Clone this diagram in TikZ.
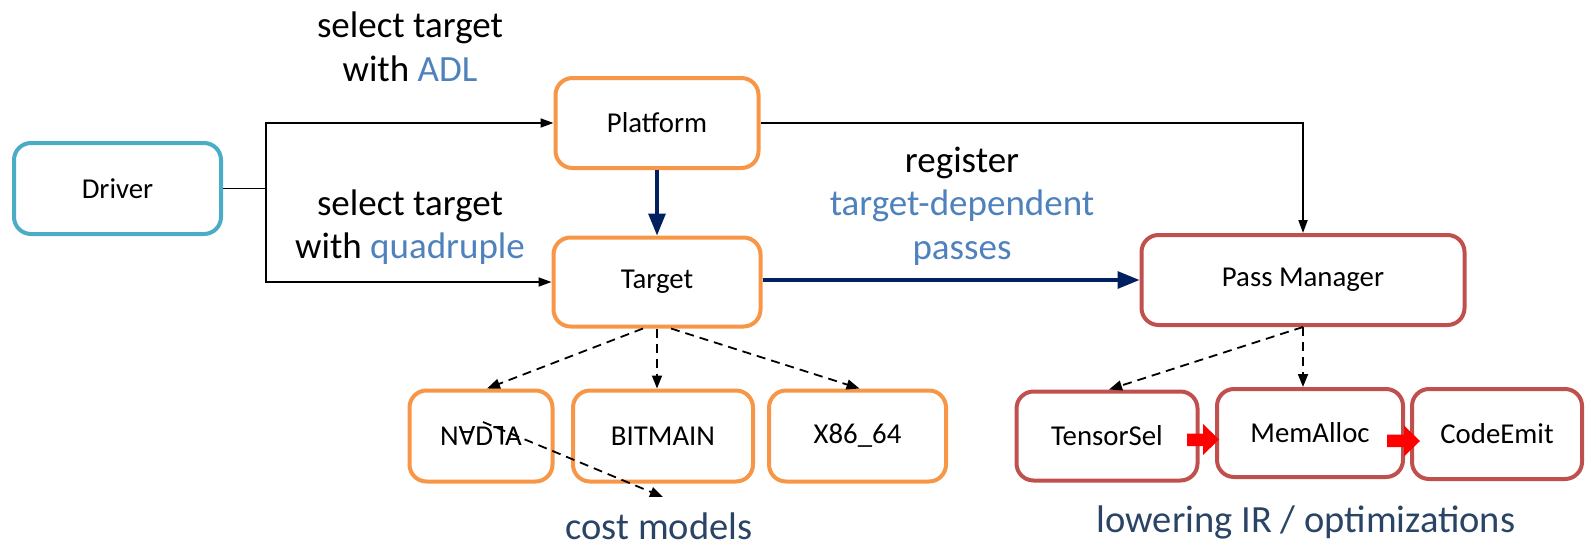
\documentclass[tikz,border=0pt]{standalone}
\usepackage{fontspec}
\usepackage{graphicx}
\setmainfont{Carlito}
\usetikzlibrary{arrows.meta}
\definecolor{orng}{HTML}{F79646}
\definecolor{redb}{HTML}{C0504D}
\definecolor{blueb}{HTML}{4BACC6}
\definecolor{navy}{HTML}{002060}
\definecolor{txtblue}{HTML}{4F81BD}
\definecolor{capblue}{HTML}{2A4466}
\tikzset{
  box/.style={draw, line width=4pt, rounded corners=17pt, fill=white, align=center,
    font=\fontsize{28.8}{34}\selectfont, inner sep=0pt},
  obox/.style={box, draw=orng},
  rbox/.style={box, draw=redb},
  bbox/.style={box, draw=blueb},
  thinarr/.style={line width=1.8pt, -{Triangle[length=13pt,width=9pt]}},
  thinline/.style={line width=1.8pt},
  navyarr/.style={draw=navy, line width=3.2pt, -{Triangle[length=22pt,width=17pt]}},
  dasharr/.style={line width=1.8pt, dash pattern=on 9pt off 6pt, -{Triangle[length=13pt,width=10pt]}},
  lab/.style={font=\fontsize{37}{43.5}\selectfont, align=center},
  captxt/.style={font=\fontsize{38.5}{44}\selectfont, text=capblue},
  redarr/.style={fill=red, draw=none}
}
\begin{document}
\begin{tikzpicture}[x=1pt,y=-1pt]
\useasboundingbox (0,0) rectangle (1587,546);
% boxes
\node[bbox, minimum width=207pt, minimum height=91pt] (drv) at (117.5,188.5) {Driver};
\node[obox, minimum width=203pt, minimum height=90pt] (plat) at (657,123) {Platform};
\node[obox, minimum width=207pt, minimum height=89pt] (tgt) at (657,282) {Target};
\node[rbox, minimum width=323pt, minimum height=90pt] (pm) at (1303,280) {Pass Manager};
\node[obox, minimum width=143pt, minimum height=91pt] (nv) at (481,436) {N\rotatebox[origin=c]{180}{A}D\rotatebox[origin=c]{180}{L}A};
\node[obox, minimum width=180pt, minimum height=91pt] (bm) at (663,436) {BITMAIN};
\node[obox, minimum width=177pt, minimum height=91pt] (x86) at (857.5,436) {X86\_64};
\node[rbox, minimum width=181pt, minimum height=89pt] (ts) at (1107,436) {TensorSel};
\node[rbox, minimum width=186pt, minimum height=88pt] (ma) at (1310,433) {MemAlloc};
\node[rbox, minimum width=170pt, minimum height=90pt] (ce) at (1497,434) {CodeEmit};

% coordinates
\coordinate (j1) at (266,188.5);
\coordinate (j2) at (1303,123);
\coordinate (cm) at (663,497);

% driver connectors
\draw[thinline] (drv.east) -- (j1);
\draw[thinarr] (j1) |- (plat.west);
\draw[thinarr] (j1) |- (tgt.west);
% platform to pass manager
\draw[thinarr] (plat.east) -- (j2) -- (pm.north);
% navy arrows
\draw[navyarr] (plat.south) -- (tgt.north);
\draw[navyarr] (tgt.east |- pm.west) -- (pm.west);
% dashed from target
\draw[dasharr] ([xshift=-14pt]tgt.south) -- ([xshift=6pt]nv.north);
\draw[dasharr] (tgt.south) -- (tgt.south |- bm.north);
\draw[dasharr] ([xshift=14pt]tgt.south) -- ([xshift=2pt]x86.north);
% dashed from pass manager
\draw[dasharr] (pm.south) -- ([xshift=2pt]ts.north);
\draw[dasharr] (pm.south) -- (pm.south |- ma.north);
% nvdla to cost models
\draw[dasharr] ([xshift=2pt,yshift=14pt]nv.center) -- (cm);

% red block arrows
\fill[redarr] (1187,433.5) -- (1203,433.5) -- (1203,424) -- (1219,439.5) -- (1203,455) -- (1203,446) -- (1187,446) -- cycle;
\fill[redarr] (1387,434.5) -- (1404,434.5) -- (1404,425.5) -- (1420,441) -- (1404,456.5) -- (1404,447) -- (1387,447) -- cycle;

% labels
\node[lab] (l1) at (410,47) {select target\\with \textcolor{txtblue}{ADL}};
\node[lab] (l2) at (410,227) {select target\\with \textcolor{txtblue}{quadruple}};
\node[lab] (l3) at (962,206) {register\\\textcolor{txtblue}{target-dependent}\\\textcolor{txtblue}{passes}};
\node[captxt] (c1) at (659,526) {cost models};
\node[captxt] (c2) at (1306,522) {lowering IR / optimizations};
\end{tikzpicture}
\end{document}
